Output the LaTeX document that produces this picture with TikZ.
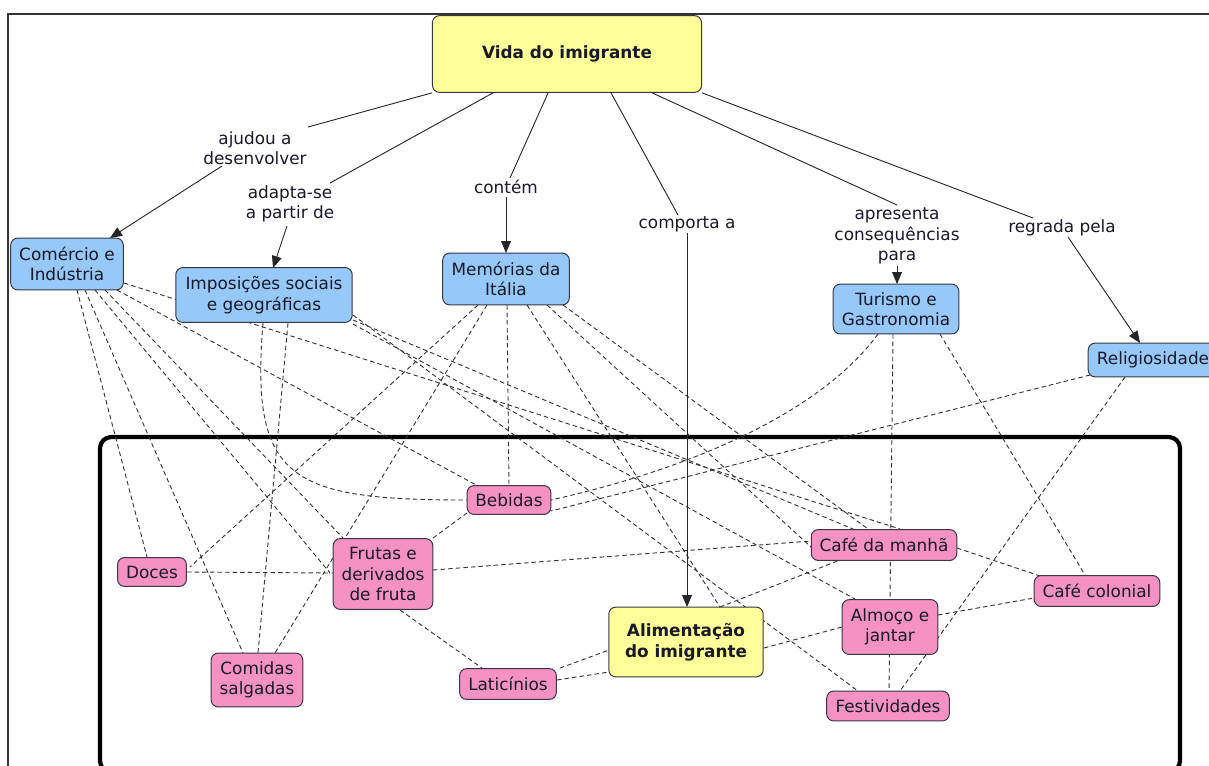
\documentclass[tikz,border=0pt]{standalone}
\usepackage{fontspec}
\setmainfont{DejaVu Sans}
\usetikzlibrary{arrows.meta,backgrounds,calc}
\definecolor{yelc}{RGB}{255,255,153}
\definecolor{bluc}{RGB}{150,200,250}
\definecolor{pnkc}{RGB}{245,145,195}
\definecolor{edgec}{RGB}{55,55,65}
\definecolor{txtc}{RGB}{25,25,40}
\begin{document}
\begin{tikzpicture}[x=0.025cm,y=-0.025cm,
  sz/.style 2 args={minimum width=#1*0.70866pt, minimum height=#2*0.70866pt},
  box/.style={draw=edgec, line width=0.7pt, rounded corners=5pt, align=center, inner sep=0pt, text=txtc, font=\fontsize{12}{14.6}\selectfont},
  ybox/.style={box, fill=yelc, font=\fontsize{12}{14.6}\selectfont\bfseries},
  bbox/.style={box, fill=bluc},
  pbox/.style={box, fill=pnkc},
  lab/.style={align=center, inner sep=0pt, text=txtc, font=\fontsize{12}{14.6}\selectfont},
  sl/.style={line width=0.65pt, draw=black!85},
  arr/.style={sl, -{Triangle[length=8.5pt,width=7pt]}},
  dl/.style={line width=0.65pt, draw=black!80, dash pattern=on 3.2pt off 2.2pt},
  frame/.style={line width=1.4pt, draw=black!80},
  inframe/.style={line width=3pt, draw=black, rounded corners=8pt},
]
\useasboundingbox (0,0) rectangle (1209,765);

% concepts
\node[ybox, sz={270}{77}] (vida) at (567,54) {Vida do imigrante};
\node[bbox, sz={113}{52}] (com) at (67,264) {Comércio e\\Indústria};
\node[bbox, sz={177}{55}] (imp) at (264,295) {Imposições sociais\\e geográficas};
\node[bbox, sz={127}{52}] (mem) at (506,279) {Memórias da\\Itália};
\node[bbox, sz={126}{50}] (tur) at (896,309) {Turismo e\\Gastronomia};
\node[bbox, sz={130}{34}] (rel) at (1153,360) {Religiosidade};

\node[pbox, sz={69}{29}] (doces) at (152,572) {Doces};
\node[pbox, sz={92}{54}] (comidas) at (257,680) {Comidas\\salgadas};
\node[pbox, sz={100}{71}] (frutas) at (383,574) {Frutas e\\derivados\\de fruta};
\node[pbox, sz={84}{29}] (bebidas) at (509,500) {Bebidas};
\node[pbox, sz={97}{31}] (latic) at (508,684) {Laticínios};
\node[ybox, sz={155}{70}] (alim) at (686,642) {Alimentação\\do imigrante};
\node[pbox, sz={146}{31}] (cafem) at (884,545) {Café da manhã};
\node[pbox, sz={96}{55}] (almoco) at (890,627) {Almoço e\\jantar};
\node[pbox, sz={123}{30}] (festiv) at (888,706) {Festividades};
\node[pbox, sz={126}{31}] (cafec) at (1097,591) {Café colonial};

% linking phrases
\node[lab] (l1) at (255,148) {ajudou a\\desenvolver};
\node[lab] (l2) at (290,204) {adapta-se\\a partir de};
\node[lab] (l3) at (506,187) {contém};
\node[lab] (l4) at (687,224) {comporta a};
\node[lab] (l5) at (897,236) {apresenta\\consequências\\para};
\node[lab] (l6) at (1062,228) {regrada pela};

% solid links
\draw[sl] (vida.south west) -- ([shift={(53,-21)}]l1.center);
\draw[arr] ([shift={(-33,18)}]l1.center) -- ([shift={(43,-26)}]com.center);
\draw[sl] ($(vida.south west)!0.226!(vida.south east)$) -- ([shift={(40,-21)}]l2.center);
\draw[arr] ([shift={(-3,22)}]l2.center) -- ([shift={(9,-27)}]imp.center);
\draw[sl] ($(vida.south west)!0.43!(vida.south east)$) -- ([shift={(4,-9)}]l3.center);
\draw[arr] ([shift={(0,10)}]l3.center) -- ([shift={(0,-26)}]mem.center);
\draw[sl] ($(vida.south west)!0.663!(vida.south east)$) -- ([shift={(-9,-9)}]l4.center);
\draw[arr] ([shift={(0,9)}]l4.center) -- ([shift={(1,-35)}]alim.center);
\draw[sl] ($(vida.south west)!0.815!(vida.south east)$) -- ([shift={(0,-31)}]l5.center);
\draw[arr] ([shift={(0,30)}]l5.center) -- ([shift={(1,-25)}]tur.center);
\draw[sl] (vida.south east) -- ([shift={(-29,-10)}]l6.center);
\draw[arr] ([shift={(6,9)}]l6.center) -- ([shift={(-13,-17)}]rel.center);

\begin{pgfonlayer}{background}
% frames
\draw[frame] (8,800) -- (8,14) -- (1230,14);
\draw[inframe] (100,437) rectangle (1180,772);
% Comercio
\draw[dl] ([shift={(10,26)}]com.center) -- ([shift={(-5,-15)}]doces.center);
\draw[dl] ([shift={(18,26)}]com.center) -- ([shift={(-14,-27)}]comidas.center);
\draw[dl] ([shift={(28,26)}]com.center) -- ([shift={(-53,-1)}]frutas.center);
\draw[dl] ([shift={(38,26)}]com.center) -- ([shift={(-40,-36)}]frutas.center);
\draw[dl] ([shift={(50,26)}]com.center) -- ([shift={(-31,-14)}]bebidas.center);
\draw[dl] ([shift={(57,19)}]com.center) -- ([shift={(16,-16)}]cafem.center);
% Imposicoes
\draw[dl] ([shift={(-1,28)}]imp.center) .. controls (250,480) and (290,500) .. ([shift={(-42,0)}]bebidas.center);
\draw[dl] ([shift={(24,28)}]imp.center) -- ([shift={(1,-27)}]comidas.center);
\draw[dl] ([shift={(89,25)}]imp.center) -- ([shift={(-31,-16)}]cafem.center);
\draw[dl] ([shift={(89,29)}]imp.center) -- ([shift={(-35,-28)}]almoco.center);
\draw[dl] ([shift={(89,20)}]imp.center) -- ([shift={(-30,-15)}]festiv.center);
% Memorias
\draw[dl] ([shift={(-28,26)}]mem.center) -- ([shift={(38,-5)}]doces.center);
\draw[dl] ([shift={(-19,26)}]mem.center) -- ([shift={(18,-27)}]comidas.center);
\draw[dl] ([shift={(1,26)}]mem.center) -- ([shift={(0,-14)}]bebidas.center);
\draw[dl] ([shift={(21,26)}]mem.center) -- ([shift={(34,-35)}]alim.center);
\draw[dl] ([shift={(41,26)}]mem.center) -- ([shift={(-73,2)}]cafem.center);
\draw[dl] ([shift={(57,26)}]mem.center) -- ([shift={(-16,-16)}]cafem.center);
% Turismo
\draw[dl] ([shift={(-18,25)}]tur.center) .. controls (830,400) and (720,462) .. ([shift={(42,0)}]bebidas.center);
\draw[dl] ([shift={(-3,25)}]tur.center) -- ([shift={(1,-15)}]festiv.center);
\draw[dl] ([shift={(44,25)}]tur.center) -- ([shift={(-12,-16)}]cafec.center);
% Religiosidade
\draw[dl] ([shift={(-63,15)}]rel.center) -- ([shift={(42,11)}]bebidas.center);
\draw[dl] ([shift={(-28,17)}]rel.center) -- ([shift={(12,-15)}]festiv.center);
% lower links
\draw[dl] ([shift={(35,0)}]doces.center) -- ([shift={(-50,-1)}]frutas.center);
\draw[dl] ([shift={(50,-36)}]frutas.center) -- ([shift={(-42,13)}]bebidas.center);
\draw[dl] ([shift={(50,-4)}]frutas.center) -- ([shift={(-73,-4)}]cafem.center);
\draw[dl] ([shift={(17,36)}]frutas.center) -- ([shift={(-26,-16)}]latic.center);
\draw[dl] ([shift={(49,-4)}]latic.center) -- ([shift={(-77,30)}]alim.center);
\draw[dl] ([shift={(52,-16)}]latic.center) -- ([shift={(-77,8)}]alim.center);
\draw[dl] ([shift={(34,-35)}]alim.center) -- ([shift={(-44,15)}]cafem.center);
\draw[dl] ([shift={(78,6)}]alim.center) -- ([shift={(-48,0)}]almoco.center);
\draw[dl] ([shift={(73,3)}]cafem.center) -- ([shift={(-57,-15)}]cafec.center);
\draw[dl] ([shift={(48,-12)}]almoco.center) -- ([shift={(-63,7)}]cafec.center);
\end{pgfonlayer}
\end{tikzpicture}
\end{document}
